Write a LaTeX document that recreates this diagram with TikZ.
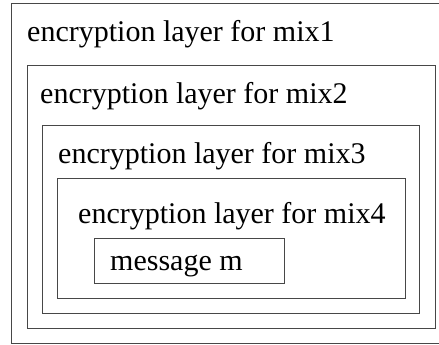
\documentclass[tikz,border=0pt]{standalone}
\usepackage{fontspec}
\setmainfont{Liberation Serif}
\begin{document}
\begin{tikzpicture}[x=1pt,y=-1pt,
  layer/.style={draw=black!72,line width=1pt,anchor=north west,inner sep=0pt},
  caption/.style={anchor=base west,inner sep=0pt,font=\fontsize{30}{32}\selectfont}]
\useasboundingbox (0,0) rectangle (439,345);
% nested encryption layers, outermost first
\node[layer,minimum width=429pt,minimum height=340pt] (mix1) at (11,3) {};
\node[layer,minimum width=408pt,minimum height=263pt] (mix2) at (27,65) {};
\node[layer,minimum width=377pt,minimum height=188pt] (mix3) at (42,125) {};
\node[layer,minimum width=348pt,minimum height=120pt] (mix4) at (57,178) {};
\node[layer,minimum width=190pt,minimum height=45pt] (msg) at (94,238) {};
% layer captions
\node[caption] (t1) at (27,42) {encryption layer for mix1};
\node[caption] (t2) at (40,103) {encryption layer for mix2};
\node[caption] (t3) at (58,163) {encryption layer for mix3};
\node[caption] (t4) at (78,223) {encryption layer for mix4};
\node[caption] (tm) at (110,270) {message m};
\end{tikzpicture}
\end{document}
